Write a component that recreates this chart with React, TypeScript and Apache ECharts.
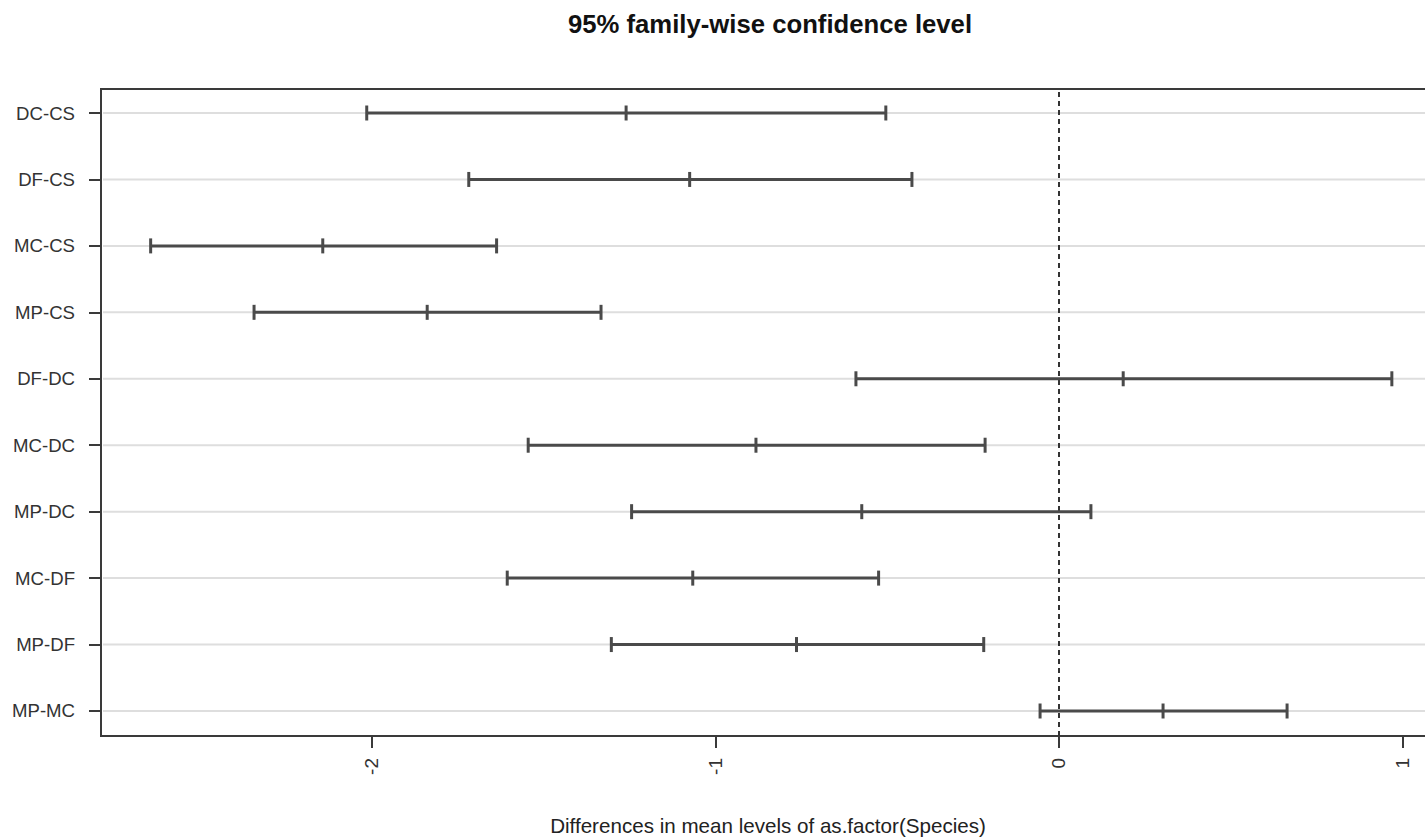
import React, { useEffect, useRef } from "react";
import * as echarts from "echarts";

const comparisons = ["DC-CS", "DF-CS", "MC-CS", "MP-CS", "DF-DC", "MC-DC", "MP-DC", "MC-DF", "MP-DF", "MP-MC"];
const diffValues = [-1.260, -1.075, -2.143, -1.839, 0.187, -0.882, -0.574, -1.066, -0.764, 0.303];
const lowerValues = [-2.015, -1.718, -2.644, -2.343, -0.591, -1.545, -1.244, -1.606, -1.303, -0.055];
const upperValues = [-0.504, -0.428, -1.637, -1.333, 0.969, -0.215, 0.093, -0.525, -0.219, 0.664];
const xTickValues = [-2, -1, 0, 1];

const titleText = "95% family-wise confidence level";
const xAxisTitle = "Differences in mean levels of as.factor(Species)";

export default function App() {
  const ref = useRef<HTMLDivElement>(null);

  useEffect(() => {
    if (!ref.current) return;
    const chart = echarts.init(ref.current, null, { renderer: "svg" });
    const n = comparisons.length;
    const yIndex = comparisons.map((_, i) => n - i);
    const data = comparisons.map((_, i) => [yIndex[i], lowerValues[i], diffValues[i], upperValues[i]]);
    const allVals = [...lowerValues, ...upperValues];
    const lo = Math.min(...allVals);
    const hi = Math.max(...allVals);
    const pad = (hi - lo) * 0.04;

    const font = "Liberation Sans, Arial, sans-serif";

    chart.setOption({
      animation: false,
      backgroundColor: "#ffffff",
      grid: {
        left: 101,
        right: 3.5,
        top: 89,
        bottom: 103,
        show: true,
        borderColor: "#3a3a3a",
        borderWidth: 2,
        backgroundColor: "transparent",
      },
      graphic: [
        {
          type: "text",
          x: 770,
          y: 24,
          style: {
            text: titleText,
            fontSize: 25.7,
            fontWeight: "bold",
            fontFamily: font,
            fill: "#111",
            align: "center",
            verticalAlign: "middle",
          },
        },
        {
          type: "text",
          x: 768,
          y: 825,
          style: {
            text: xAxisTitle,
            fontSize: 20.6,
            fontFamily: font,
            fill: "#222",
            align: "center",
            verticalAlign: "middle",
          },
        },
      ],
      xAxis: {
        type: "value",
        min: lo - pad,
        max: hi + pad,
        axisLine: { show: true, onZero: false, lineStyle: { color: "#3a3a3a", width: 2 } },
        axisTick: { show: true, customValues: xTickValues, length: 12, lineStyle: { color: "#3a3a3a", width: 2 } },
        axisLabel: {
          customValues: xTickValues,
          rotate: 90,
          margin: 22,
          fontSize: 19,
          fontFamily: font,
          color: "#333",
          formatter: (v: number) => String(v),
        },
        splitLine: { show: false },
      },
      yAxis: {
        type: "value",
        min: 1 - 25 / 66.44,
        max: n + 24 / 66.44,
        axisLine: { show: true, onZero: false, lineStyle: { color: "#3a3a3a", width: 2 } },
        axisTick: { show: true, customValues: yIndex, length: 12, lineStyle: { color: "#3a3a3a", width: 2 } },
        axisLabel: {
          customValues: yIndex,
          margin: 26,
          fontSize: 18.6,
          fontFamily: font,
          color: "#333",
          formatter: (v: number) => comparisons[n - Math.round(v)] ?? "",
        },
        splitLine: { show: false },
      },
      series: [
        {
          type: "custom",
          clip: false,
          encode: { x: [1, 2, 3], y: 0 },
          data,
          z: 3,
          renderItem: (params: any, api: any) => {
            const y = api.value(0);
            const pL = api.coord([api.value(1), y]);
            const pM = api.coord([api.value(2), y]);
            const pU = api.coord([api.value(3), y]);
            const cap = 7.5;
            const barStyle = { stroke: "#4a4a4a", lineWidth: 3 };
            return {
              type: "group",
              children: [
                {
                  type: "line",
                  shape: { x1: pL[0], y1: pL[1], x2: pU[0], y2: pU[1] },
                  style: barStyle,
                },
                {
                  type: "line",
                  shape: { x1: pL[0], y1: pL[1] - cap, x2: pL[0], y2: pL[1] + cap },
                  style: barStyle,
                },
                {
                  type: "line",
                  shape: { x1: pM[0], y1: pM[1] - cap, x2: pM[0], y2: pM[1] + cap },
                  style: barStyle,
                },
                {
                  type: "line",
                  shape: { x1: pU[0], y1: pU[1] - cap, x2: pU[0], y2: pU[1] + cap },
                  style: barStyle,
                },
              ],
            };
          },
        },
        {
          type: "custom",
          clip: false,
          encode: { x: 1, y: 0 },
          data: yIndex.map((y) => [y, 0]),
          z: 1,
          renderItem: (params: any, api: any) => {
            const p = api.coord([0, api.value(0)]);
            const cs = params.coordSys;
            return {
              type: "line",
              shape: { x1: cs.x + 2, y1: p[1], x2: cs.x + cs.width - 1, y2: p[1] },
              style: { stroke: "#dedede", lineWidth: 2 },
            };
          },
          markLine: {
            silent: true,
            symbol: ["none", "none"],
            label: { show: false },
            z: 2,
            lineStyle: { color: "#333", type: [5, 4], width: 2 },
            data: [{ xAxis: 0 }],
          },
        },
      ],
    });

    return () => chart.dispose();
  }, []);

  return (
    <div style={{ position: "fixed", left: 0, top: 0, width: 1425, height: 839, overflow: "hidden", background: "#fff" }}>
      <div ref={ref} style={{ width: 1445, height: 839 }} />
    </div>
  );
}
